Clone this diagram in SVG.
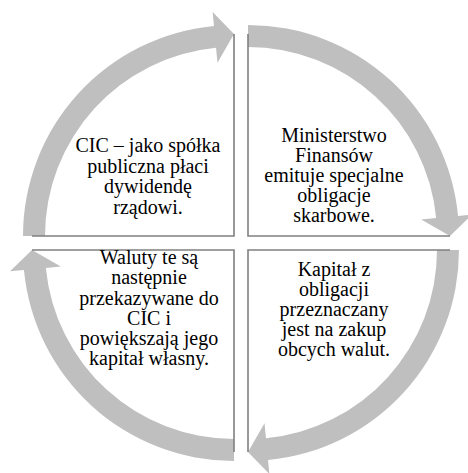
<svg xmlns="http://www.w3.org/2000/svg" width="468" height="473" viewBox="0 0 468 473">
<style>
.band{fill:#bfbfbf;stroke:none}
.edge{fill:none;stroke:#808080;stroke-width:1.6}
text{font-family:'Liberation Serif','Times New Roman',serif;font-size:20px;fill:#000;text-anchor:middle}
</style>
<defs>
<path id="arc" d="M -211 0 A 211 211 0 0 1 -20.04 -210.05 L -21.37 -223.98 L 0 -202 L -16.53 -173.21 L -17.95 -188.15 A 189 189 0 0 0 -189 0 Z"/>
<path id="edges" d="M 0 -202 L 0 0 L -202 0"/>
</defs>
<rect width="468" height="473" fill="#fff"/>
<g id="connectors">
<use href="#arc" class="band" transform="translate(234,236)"/>
<use href="#arc" class="band" transform="translate(248,236) rotate(90)"/>
<use href="#arc" class="band" transform="translate(248,250) rotate(180)"/>
<use href="#arc" class="band" transform="translate(234,250) rotate(270)"/>
</g>
<g id="node-tl">
<use href="#edges" class="edge" transform="translate(234,236)"/>
<text x="148" y="152">CIC – jako spółka</text>
<text x="148" y="172.5">publiczna płaci</text>
<text x="148" y="193">dywidendę</text>
<text x="148" y="213.5">rządowi.</text>
</g>
<g id="node-tr">
<use href="#edges" class="edge" transform="translate(248,236) rotate(90)"/>
<text x="334" y="142">Ministerstwo</text>
<text x="334" y="162">Finansów</text>
<text x="334" y="182">emituje specjalne</text>
<text x="334" y="202">obligacje</text>
<text x="334" y="222">skarbowe.</text>
</g>
<g id="node-br">
<use href="#edges" class="edge" transform="translate(248,250) rotate(180)"/>
<text x="334" y="276">Kapitał z</text>
<text x="334" y="296">obligacji</text>
<text x="334" y="316">przeznaczany</text>
<text x="334" y="336">jest na zakup</text>
<text x="334" y="356">obcych walut.</text>
</g>
<g id="node-bl">
<use href="#edges" class="edge" transform="translate(234,250) rotate(270)"/>
<text x="149" y="263.5">Waluty te są</text>
<text x="149" y="284">następnie</text>
<text x="149" y="304.5">przekazywane do</text>
<text x="149" y="324.5">CIC i</text>
<text x="149" y="344.5">powiększają jego</text>
<text x="149" y="365">kapitał własny.</text>
</g>
</svg>
